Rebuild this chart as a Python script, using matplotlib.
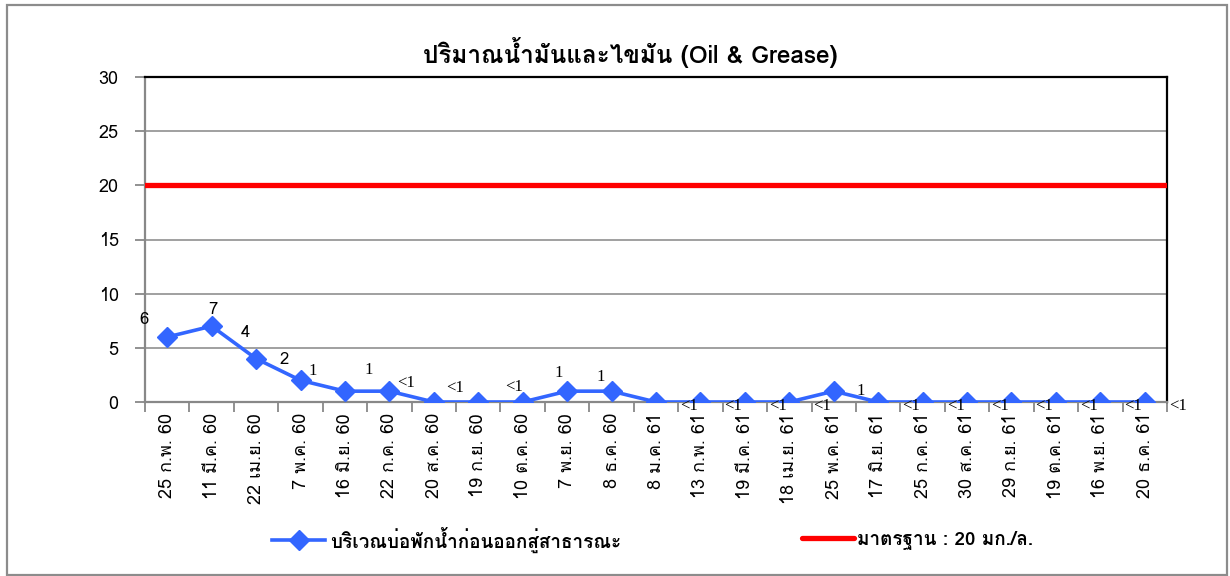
import matplotlib
matplotlib.use("Agg")
import matplotlib.pyplot as plt
from matplotlib.patches import Rectangle

# dates of sampling (Thai short month names, Buddhist years)
DATES = ["25 ก.พ. 60", "11 มี.ค. 60", "22 เม.ย. 60", "7 พ.ค. 60", "16 มิ.ย. 60",
         "22 ก.ค. 60", "20 ส.ค. 60", "19 ก.ย. 60", "10 ต.ค. 60", "7 พ.ย. 60",
         "8 ธ.ค. 60", "8 ม.ค. 61", "13 ก.พ. 61", "19 มี.ค. 61", "18 เม.ย. 61",
         "25 พ.ค. 61", "17 มิ.ย. 61", "25 ก.ค. 61", "30 ส.ค. 61", "29 ก.ย. 61",
         "19 ต.ค. 61", "16 พ.ย. 61", "20 ธ.ค. 61"]
OIL_GREASE = [6, 7, 4, 2, 1, 1, 0, 0, 0, 1, 1, 0, 0, 0, 0, 1, 0, 0, 0, 0, 0, 0, 0]
VALUE_LABELS = ["6", "7", "4", "2", "1", "1", "<1", "<1", "<1", "1", "1", "<1",
                "<1", "<1", "<1", "1", "<1", "<1", "<1", "<1", "<1", "<1", "<1"]
STANDARD = 20

TITLE = "ปริมาณน้ำมันและไขมัน (Oil & Grease)"
SERIES_NAME = "บริเวณบ่อพักน้ำก่อนออกสู่สาธารณะ"
STANDARD_NAME = "มาตรฐาน : 20 มก./ล."

TICK_FONT = ["Loma", "DejaVu Sans"]
plt.rcParams["font.family"] = TICK_FONT

BLUE = "#3366ff"
RED = "#ff0000"

fig = plt.figure(figsize=(12.3, 5.76), dpi=100)
W, H = 1230, 576
ax = fig.add_axes([145 / W, 1 - 402 / H, (1167 - 145) / W, (402 - 77) / H])

x = list(range(len(DATES)))
ax.plot(x, OIL_GREASE, color=BLUE, lw=2.6, marker="D", ms=10, zorder=4)
ax.axhline(STANDARD, color=RED, lw=3.8, zorder=3)

ax.set_xlim(-0.5, len(DATES) - 0.5)
ax.set_ylim(0, 30)
ax.set_yticks(range(0, 31, 5))
ax.set_yticklabels([str(v) for v in range(0, 31, 5)], fontsize=13)
ax.grid(axis="y", color="#999999", lw=1.3)
ax.set_axisbelow(True)

ax.set_xticks([i - 0.5 for i in range(len(DATES) + 1)])
ax.set_xticklabels([])
ax.set_xticks(x, minor=True)
ax.set_xticklabels(DATES, minor=True, rotation=90, fontsize=13)
ax.tick_params(axis="x", which="minor", length=0, pad=8)
ax.tick_params(axis="x", which="major", length=7, color="#888888", width=1.3)
ax.tick_params(axis="y", length=7, color="#888888", width=1.3, pad=12)

for side in ["left", "bottom"]:
    ax.spines[side].set_color("#888888")
    ax.spines[side].set_linewidth(1.6)
for side in ["top", "right"]:
    ax.spines[side].set_color("black")
    ax.spines[side].set_linewidth(1.6)

# data labels, offsets in pixels from each point
offsets = [(-23, 17), (1, 16), (-11, 26), (-16, 20), (-32, 20), (-21, 21), (-28, 19),
           (-23, 14), (-9, 15), (-8, 18), (-11, 14), (33, -4), (33, -4), (33, -4),
           (33, -4), (27, 0), (33, -4), (33, -4), (33, -4), (33, -4), (33, -4),
           (33, -4), (33, -4)]
for i, (v, lab) in enumerate(zip(OIL_GREASE, VALUE_LABELS)):
    fam = TICK_FONT if i < 4 else ["Liberation Serif"]
    ax.annotate(lab, (i, v), xytext=offsets[i], textcoords="offset pixels",
                ha="center", va="center", fontsize=12, family=fam, zorder=5,
                annotation_clip=False)

fig.text(630 / W, 1 - 52 / H, TITLE, ha="center", va="center",
         fontsize=17.5, fontweight="bold")

# legend drawn in figure coords
fig.add_artist(plt.Line2D([272 / W, 325 / W], [1 - 540 / H] * 2, color=BLUE, lw=2.6,
                          transform=fig.transFigure))
fig.add_artist(plt.Line2D([298.5 / W], [1 - 540 / H], color=BLUE, marker="D", ms=10,
                          transform=fig.transFigure))
fig.text(330 / W, 1 - 540 / H, SERIES_NAME, ha="left", va="center",
         fontsize=13.6, fontweight="bold")
fig.add_artist(plt.Line2D([802 / W, 854 / W], [1 - 538 / H] * 2, color=RED, lw=3.8,
                          solid_capstyle="round", transform=fig.transFigure))
fig.text(857 / W, 1 - 540 / H, STANDARD_NAME, ha="left", va="center",
         fontsize=13.6, fontweight="bold")

# outer chart border
fig.add_artist(Rectangle((6.5 / W, 1.5 / H), 1220 / W, 569.5 / H, fill=False,
                         edgecolor="#8c8c8c", lw=1.6, transform=fig.transFigure))

fig.savefig("out.png", dpi=100)
